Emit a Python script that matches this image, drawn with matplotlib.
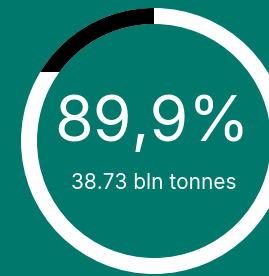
import matplotlib.pyplot as plt
from matplotlib.patches import Wedge, Rectangle

plt.rcParams['font.family'] = ['Inter', 'DejaVu Sans']

# values
share_label = "89,9%"
amount_label = "38.73 bln tonnes"
black_arc_deg = 60  # black part of the ring (clipped flat)

bg = '#00786B'
fig = plt.figure(figsize=(2.69, 2.76), dpi=100, facecolor=bg)
ax = fig.add_axes([0, 0, 1, 1])
ax.set_facecolor(bg)
ax.set_xlim(0, 269)
ax.set_ylim(276, 0)
ax.axis('off')

cx, cy, r, w = 154, 141, 133, 16

# white ring
ax.add_patch(Wedge((cx, cy), r, 0, 360, width=w, facecolor='white', edgecolor='none'))

# black arc: from 12 o'clock going counter-clockwise (screen), flat cut
# y axis is inverted, so angles go the other way
blk = Wedge((cx, cy), r, 270 - black_arc_deg, 270, width=w, facecolor='black', edgecolor='none')
ax.add_patch(blk)
clip = Rectangle((0, 0), 269, 72, transform=ax.transData)
blk.set_clip_path(clip)

ax.text(152.5, 125, share_label, color='white', fontsize=45, ha='center', va='center')
ax.text(154, 183, amount_label, color='white', fontsize=15, ha='center', va='center')

plt.savefig('out.png', dpi=100, facecolor=bg)
